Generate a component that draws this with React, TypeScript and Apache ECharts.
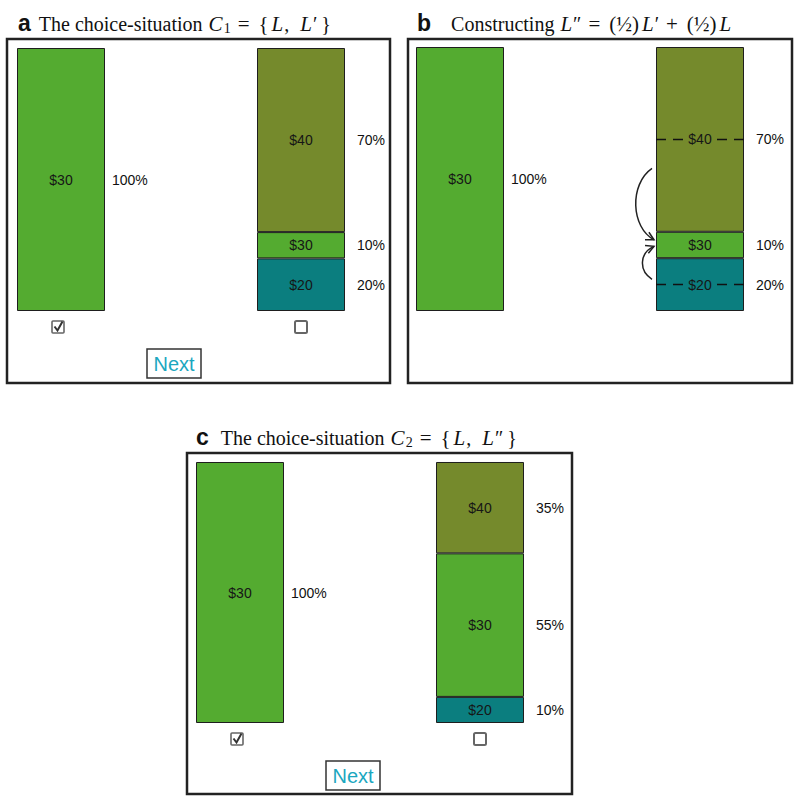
import React, { useEffect, useRef } from 'react';
import * as echarts from 'echarts';

// ---- data ----
const categoriesA = ['L', 'L′'];
const categoriesB = ['L', 'L′'];
const categoriesC = ['L', 'L″'];
const prizes = ['$20', '$30', '$40'];
// probability (%) of each prize for lotteries [L, L′ / L″]
const a20: (number | null)[] = [null, 20];
const a30: (number | null)[] = [100, 10];
const a40: (number | null)[] = [null, 70];
const b20: (number | null)[] = [null, 20];
const b30: (number | null)[] = [100, 10];
const b40: (number | null)[] = [null, 70];
const c20: (number | null)[] = [null, 10];
const c30: (number | null)[] = [100, 55];
const c40: (number | null)[] = [null, 35];

const SANS = 'Liberation Sans, Arial, sans-serif';
const SERIF = 'Liberation Serif, DejaVu Serif, serif';
const BAR_W = 88;
const COLORS: Record<string, string> = { '$20': '#0b7e7f', '$30': '#54ab30', '$40': '#758a2c' };

function panelSeries(idx: number, values: (number | null)[][]) {
  const out: any[] = [];
  prizes.forEach((p, k) => {
    out.push({
      type: 'bar',
      name: p,
      xAxisIndex: idx,
      yAxisIndex: idx,
      stack: 'prize' + idx,
      barWidth: BAR_W,
      barGap: '-100%',
      clip: false,
      z: 2,
      itemStyle: { color: COLORS[p], borderColor: '#1e1e1e', borderWidth: 1 },
      label: {
        show: true,
        position: 'inside',
        formatter: p.replace('$', '$$'),
        color: '#161616',
        fontSize: 14,
        fontFamily: SANS,
      },
      data: values[k],
    });
  });
  prizes.forEach((p, k) => {
    out.push({
      type: 'bar',
      name: p + ' share',
      xAxisIndex: idx,
      yAxisIndex: idx,
      stack: 'pct' + idx,
      barWidth: BAR_W,
      barGap: '-100%',
      clip: false,
      silent: true,
      itemStyle: { color: 'rgba(0,0,0,0)' },
      label: {
        show: true,
        position: 'right',
        formatter: '{c}%',
        color: '#111',
        fontSize: 14,
        fontFamily: SANS,
      },
      data: values[k].map((v, i) =>
        v == null ? null : { value: v, label: { distance: i === 0 ? 7 : 12 } }
      ),
    });
  });
  return out;
}

export default function App() {
  const ref = useRef<HTMLDivElement>(null);
  useEffect(() => {
    if (!ref.current) return;
    const chart = echarts.init(ref.current, null, { renderer: 'svg' });
    // grid spans from the centre of the first bar to the centre of the second
    const grids = [
      { left: 61, top: 48, width: 240, height: 263 },
      { left: 460, top: 47, width: 240, height: 264 },
      { left: 240, top: 462, width: 240, height: 261 },
    ];
    const cats = [categoriesA, categoriesB, categoriesC];
    const titleBase = {
      textStyle: {
        fontFamily: SERIF,
        fontSize: 20,
        color: '#111',
        fontWeight: 'normal' as const,
        rich: {
          k: { fontFamily: SANS, fontWeight: 'bold', fontSize: 23, color: '#111', padding: [0, 8, 2, 0] },
          kb: { fontFamily: SANS, fontWeight: 'bold', fontSize: 23, color: '#111', padding: [0, 20, 2, 0] },
          kc: { fontFamily: SANS, fontWeight: 'bold', fontSize: 23, color: '#111', padding: [0, 12, 2, 0] },
          i: { fontFamily: SERIF, fontStyle: 'italic', fontSize: 21, color: '#111', padding: [0, 1, 0, 1] },
          m: { fontFamily: SERIF, fontSize: 21, color: '#111', padding: [0, 7, 0, 7] },
          p: { fontFamily: SERIF, fontSize: 21, color: '#111', padding: [0, 2, 0, 2] },
          s: { fontFamily: SERIF, fontSize: 14, color: '#111', padding: [9, 0, 0, 0] },
        },
      },
    };
    chart.setOption({
      animation: false,
      backgroundColor: '#fff',
      title: [
        { ...titleBase, left: 13, top: 6, text: '{k|a}The choice-situation {i|C}{s|1}{m|=}{p|{}{i|L},  {i|L}′{p|}}' },
        { ...titleBase, left: 412, top: 6, text: '{kb|b}Constructing {i|L}″{m|=}{p|(½)}{i|L}′{m|+}{p|(½)}{i|L}' },
        { ...titleBase, left: 191, top: 420, text: '{kc|c}The choice-situation {i|C}{s|2}{m|=}{p|{}{i|L},  {i|L}″{p|}}' },
      ],
      grid: grids.map((g) => ({ ...g, containLabel: false, show: false })),
      xAxis: cats.map((c, i) => ({ type: 'category', gridIndex: i, data: c, show: false, boundaryGap: false })),
      yAxis: cats.map((_, i) => ({ type: 'value', gridIndex: i, min: 0, max: 100, show: false })),
      series: [
        ...panelSeries(0, [a20, a30, a40]),
        ...panelSeries(1, [b20, b30, b40]),
        ...panelSeries(2, [c20, c30, c40]),
      ],
    });

    const px = (g: number, cat: string, v: number) =>
      chart.convertToPixel({ xAxisIndex: g, yAxisIndex: g }, [cat, v]) as number[];

    const graphics: any[] = [];
    // panel frames
    const frames = [
      [7, 39, 383, 344],
      [408, 39, 384, 344],
      [187, 453, 385, 341],
    ];
    frames.forEach(([x, y, w, h]) =>
      graphics.push({
        type: 'rect',
        shape: { x, y, width: w, height: h },
        style: { fill: 'none', stroke: '#222', lineWidth: 2.5 },
        silent: true,
      })
    );

    // checkboxes and Next buttons for panels a and c
    [0, 2].forEach((g) => {
      const c = cats[g];
      const [lx, ly] = px(g, c[0], 0);
      const [rx] = px(g, c[1], 0);
      const cy = ly + 16;
      const bx = lx - 3;
      graphics.push({
        type: 'rect',
        shape: { x: bx - 6, y: cy - 6, width: 12, height: 12, r: 1 },
        style: { fill: '#fff', stroke: '#666', lineWidth: 1.6 },
      });
      graphics.push({
        type: 'polyline',
        shape: { points: [[bx - 3.5, cy - 0.5], [bx - 0.5, cy + 3.5], [bx + 4.5, cy - 5.5]] },
        style: { fill: 'none', stroke: '#333', lineWidth: 2 },
      });
      graphics.push({
        type: 'rect',
        shape: { x: rx - 6, y: cy - 6, width: 12, height: 12, r: 1.5 },
        style: { fill: '#fff', stroke: '#666', lineWidth: 2 },
      });
      const nx = lx + 113;
      const ny = cy + 36;
      graphics.push({
        type: 'rect',
        shape: { x: nx - 27, y: ny - 14, width: 54, height: 29 },
        style: { fill: '#fff', stroke: '#333', lineWidth: 1.5 },
      });
      graphics.push({
        type: 'text',
        x: nx,
        y: ny + 1,
        style: {
          text: 'Next',
          fill: '#1ba7bf',
          font: `20px ${SANS}`,
          align: 'center',
          verticalAlign: 'middle',
        },
      });
    });

    // panel b: dashed lines through $40 and $20 segments
    const catB = categoriesB[1];
    const mid40 = (b20[1] as number) + (b30[1] as number) + (b40[1] as number) / 2;
    const mid20 = (b20[1] as number) / 2;
    const mid30 = (b20[1] as number) + (b30[1] as number) / 2;
    [mid40, mid20].forEach((v) => {
      const [cx, cy] = px(1, catB, v);
      graphics.push({
        type: 'line',
        z: 20,
        shape: { x1: cx - 17, y1: cy, x2: cx - BAR_W / 2, y2: cy },
        style: { stroke: '#111', lineWidth: 1.5, lineDash: [10, 7] },
      });
      graphics.push({
        type: 'line',
        z: 20,
        shape: { x1: cx + 17, y1: cy, x2: cx + BAR_W / 2, y2: cy },
        style: { stroke: '#111', lineWidth: 1.5, lineDash: [10, 7] },
      });
    });

    // panel b: arrows into the $30 segment
    const [bcx] = px(1, catB, 0);
    const barLeft = bcx - BAR_W / 2;
    const arrow = (sv: number, ev: number, cpx: number, d1: number, d2: number) => {
      const sy = px(1, catB, sv)[1];
      const ey = px(1, catB, ev)[1];
      const sx = barLeft - 4;
      const ex = barLeft - 2;
      const c1 = [barLeft - cpx, sy + d1];
      const c2 = [barLeft - cpx + 2, ey + d2];
      graphics.push({
        type: 'bezierCurve',
        z: 20,
        shape: { x1: sx, y1: sy, x2: ex, y2: ey, cpx1: c1[0], cpy1: c1[1], cpx2: c2[0], cpy2: c2[1] },
        style: { fill: 'none', stroke: '#222', lineWidth: 1.5 },
      });
      const dx = ex - c2[0];
      const dy = ey - c2[1];
      const len = Math.hypot(dx, dy);
      const ux = dx / len;
      const uy = dy / len;
      const a = (28 * Math.PI) / 180;
      const L = 9;
      const rot = (ang: number) => [
        ex - L * (ux * Math.cos(ang) - uy * Math.sin(ang)),
        ey - L * (ux * Math.sin(ang) + uy * Math.cos(ang)),
      ];
      graphics.push({
        type: 'polyline',
        z: 20,
        shape: { points: [rot(a), [ex, ey], rot(-a)] },
        style: { fill: 'none', stroke: '#222', lineWidth: 1.5 },
      });
    };
    arrow(54, mid30 + 2, 27, 16, -12);
    arrow(12, mid30 - 0.5, 18, -9, 6);

    chart.setOption({ graphic: graphics });
    return () => chart.dispose();
  }, []);
  return (
    <div
      ref={ref}
      style={{ position: 'fixed', left: 0, top: 0, width: 800, height: 803, background: '#fff' }}
    />
  );
}
